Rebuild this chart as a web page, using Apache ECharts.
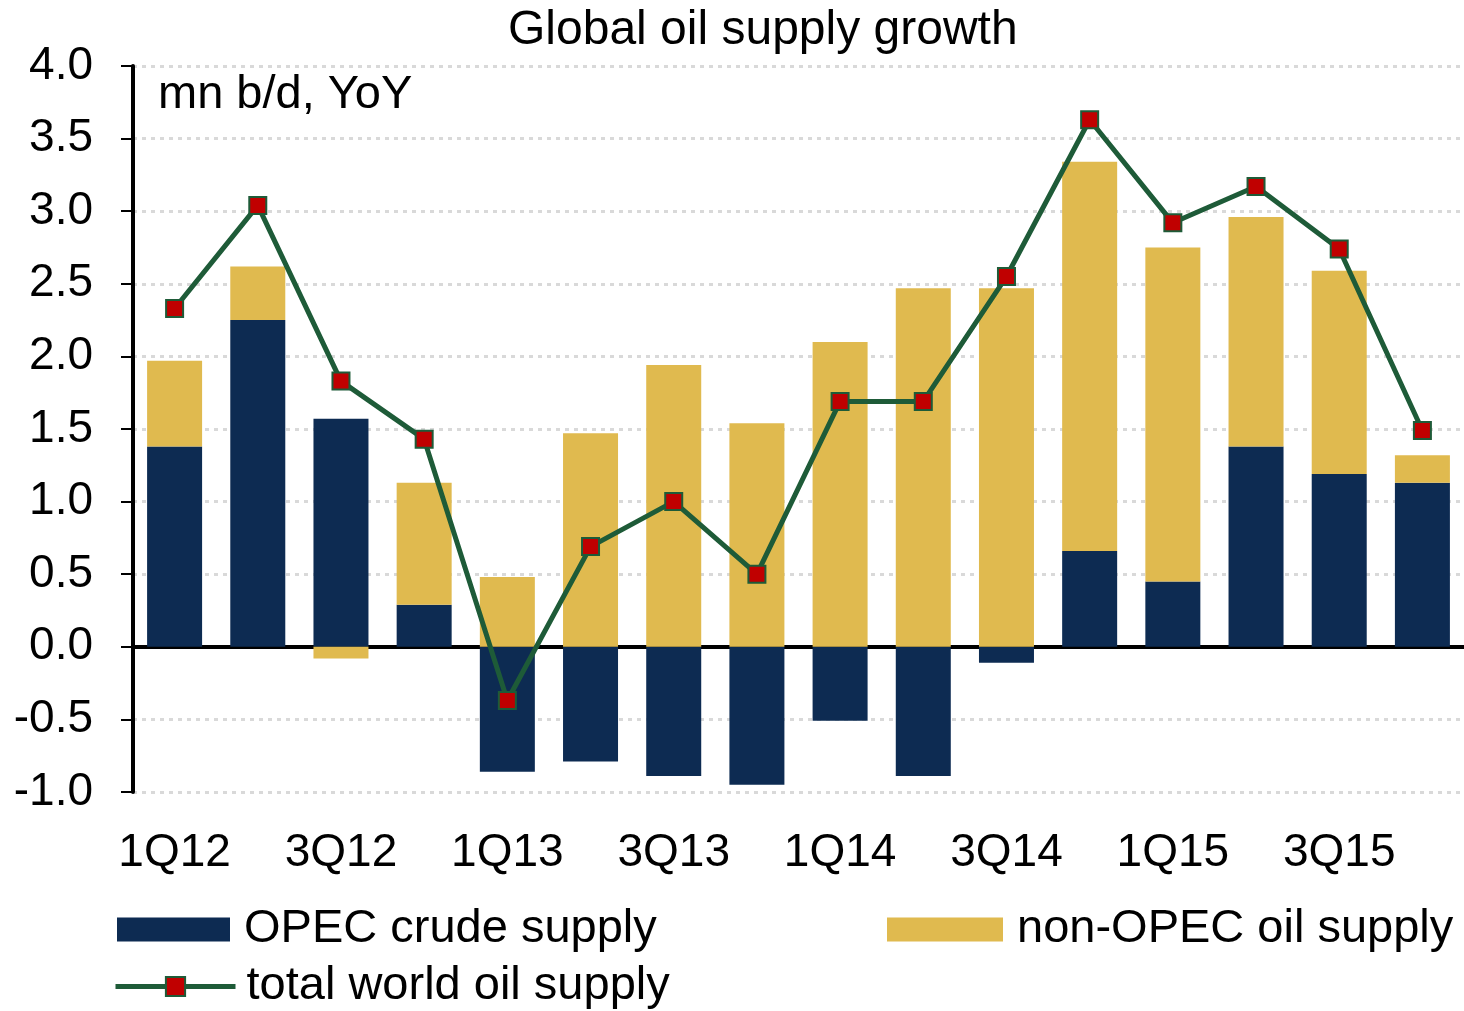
<!DOCTYPE html>
<html>
<head>
<meta charset="utf-8">
<title>Global oil supply growth</title>
<script src="https://cdn.jsdelivr.net/npm/echarts@6/dist/echarts.min.js"></script>
<style>
  html, body { margin: 0; padding: 0; background: #fff; }
  #chart { width: 1464px; height: 1011px; }
</style>
</head>
<body>
<div id="chart"></div>
<script>
// quarters on the x axis
var quarters = ['1Q12', '2Q12', '3Q12', '4Q12', '1Q13', '2Q13', '3Q13', '4Q13',
  '1Q14', '2Q14', '3Q14', '4Q14', '1Q15', '2Q15', '3Q15', '4Q15'];
// mn b/d, YoY
var opecCrude = [1.38, 2.25, 1.57, 0.29, -0.86, -0.79, -0.89, -0.95,
  -0.51, -0.89, -0.11, 0.66, 0.45, 1.38, 1.19, 1.13];
var nonOpec = [0.59, 0.37, -0.08, 0.84, 0.48, 1.47, 1.94, 1.54,
  2.10, 2.47, 2.47, 2.68, 2.30, 1.58, 1.40, 0.19];
var totalWorld = [2.33, 3.04, 1.83, 1.43, -0.37, 0.69, 1.00, 0.50,
  1.69, 1.69, 2.55, 3.63, 2.92, 3.17, 2.74, 1.49];

var font = 'Liberation Sans, Arial, sans-serif';
var chart = echarts.init(document.getElementById('chart'));

var option = {
  animation: false,
  backgroundColor: '#fff',
  textStyle: { fontFamily: font, color: '#000' },
  title: [
    {
      text: 'Global oil supply growth',
      left: 508,
      top: 7,
      padding: 0,
      textStyle: { fontSize: 48, fontWeight: 'normal', color: '#000', fontFamily: font }
    },
    {
      text: 'mn b/d, YoY',
      left: 158,
      top: 72,
      padding: 0,
      textStyle: { fontSize: 47, fontWeight: 'normal', color: '#000', fontFamily: font }
    }
  ],
  legend: [
    {
      data: ['OPEC crude supply'],
      left: 117,
      top: 906,
      padding: 0,
      icon: 'rect',
      itemWidth: 113,
      itemHeight: 24,
      textStyle: { fontSize: 47, color: '#000', fontFamily: font, padding: [0, 0, 0, 9] }
    },
    {
      data: ['non-OPEC oil supply'],
      left: 887,
      top: 906,
      padding: 0,
      icon: 'rect',
      itemWidth: 116,
      itemHeight: 24,
      textStyle: { fontSize: 47, color: '#000', fontFamily: font, padding: [0, 0, 0, 9] }
    },
    {
      data: ['total world oil supply'],
      left: 113,
      top: 963,
      padding: 0,
      itemWidth: 120,
      itemHeight: 24,
      lineStyle: { width: 5 },
      textStyle: { fontSize: 47, color: '#000', fontFamily: font, padding: [0, 0, 0, 6] }
    }
  ],
  grid: {
    left: 133,
    right: 0,
    top: 66,
    bottom: 219,
    containLabel: false
  },
  xAxis: {
    type: 'category',
    data: quarters,
    axisLine: { onZero: true, lineStyle: { color: '#000', width: 4 } },
    axisTick: { interval: 3, length: 9, lineStyle: { color: '#000', width: 2 } },
    axisLabel: { interval: 1, margin: 38, fontSize: 46, color: '#000', fontFamily: font },
    splitLine: { show: false }
  },
  yAxis: {
    type: 'value',
    min: -1,
    max: 4,
    interval: 0.5,
    axisLine: { show: true, lineStyle: { color: '#000', width: 4 } },
    axisTick: { show: true, length: 12, lineStyle: { color: '#000', width: 2 } },
    axisLabel: {
      margin: 40,
      fontSize: 46,
      color: '#000',
      fontFamily: font,
      formatter: function (v) { return v.toFixed(1); }
    },
    splitLine: { lineStyle: { color: '#D9D9D9', width: 3, type: [4, 5] } }
  },
  series: [
    {
      name: 'OPEC crude supply',
      type: 'bar',
      stack: 'supply',
      barWidth: 55,
      data: opecCrude,
      itemStyle: { color: '#0D2B52' }
    },
    {
      name: 'non-OPEC oil supply',
      type: 'bar',
      stack: 'supply',
      barWidth: 55,
      data: nonOpec,
      itemStyle: { color: '#E0BA4F' }
    },
    {
      name: 'total world oil supply',
      type: 'line',
      data: totalWorld,
      z: 5,
      symbol: 'rect',
      symbolSize: 17,
      lineStyle: { color: '#1E5B38', width: 5 },
      itemStyle: { color: '#C00000', borderColor: '#1E5B38', borderWidth: 2 }
    }
  ]
};

chart.setOption(option);
</script>
</body>
</html>
